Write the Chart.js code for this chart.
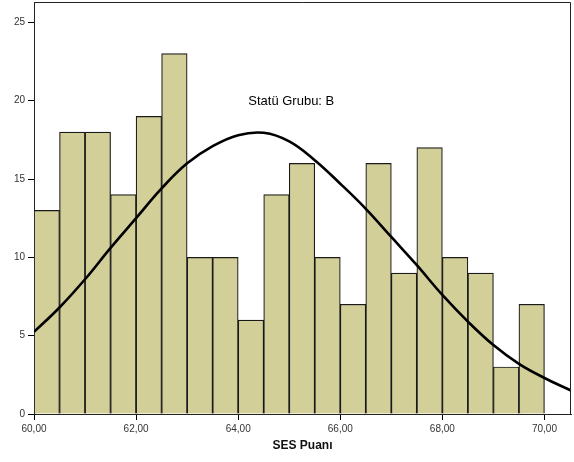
<!DOCTYPE html>
<html>
<head>
<meta charset="utf-8">
<script src="https://cdn.jsdelivr.net/npm/chart.js@4"></script>
<style>
  html, body { margin: 0; padding: 0; background: #fff; }
  #wrap { width: 574px; height: 462px; }
</style>
</head>
<body>
<div id="wrap"><canvas id="chart"></canvas></div>
<script>
// histogram bins (lower edge), width 0.5
const binStarts = [60, 60.5, 61, 61.5, 62, 62.5, 63, 63.5, 64, 64.5, 65, 65.5, 66, 66.5, 67, 67.5, 68, 68.5, 69, 69.5];
const counts = [13, 18, 18, 14, 19, 23, 10, 10, 6, 14, 16, 10, 7, 16, 9, 17, 10, 9, 3, 7];
// normal curve
const curveX = [60, 60.5, 61, 61.5, 62, 62.5, 63, 63.5, 64, 64.5, 65, 65.5, 66, 66.5, 67, 67.5, 68, 68.5, 69, 69.5, 70, 70.52];
const curveY = [5.24, 6.8, 8.6, 10.6, 12.5, 14.4, 16.0, 17.1, 17.8, 17.95, 17.4, 16.2, 14.7, 13.1, 11.3, 9.5, 7.6, 5.9, 4.4, 3.2, 2.3, 1.5];
const xTicks = [60, 62, 64, 66, 68, 70];
const yTicks = [0, 5, 10, 15, 20, 25];
const label = 'Statü Grubu: B';

const font = 'Arial, "Liberation Sans", sans-serif';

const framePlugin = {
	id: 'frame',
	afterDatasetsDraw(chart) {
		const a = chart.chartArea;
		const ctx = chart.ctx;
		ctx.save();
		ctx.strokeStyle = '#222';
		ctx.lineWidth = 1;
		ctx.beginPath();
		ctx.moveTo(a.left, a.top + 0.5);
		ctx.lineTo(a.right - 0.5, a.top + 0.5);
		ctx.lineTo(a.right - 0.5, a.bottom);
		ctx.stroke();
		// group label
		ctx.fillStyle = '#000';
		ctx.font = '13px ' + font;
		ctx.textAlign = 'center';
		ctx.textBaseline = 'middle';
		ctx.fillText(label, chart.scales.x.getPixelForValue(65.04), chart.scales.y.getPixelForValue(19.95));
		ctx.restore();
	}
};

const ctx = document.getElementById('chart').getContext('2d');
const myChart = new Chart(ctx, {
	type: 'bar',
	data: {
		datasets: [
			{
				type: 'line',
				data: curveX.map((x, i) => ({ x: x, y: curveY[i] })),
				borderColor: '#000',
				borderWidth: 2.6,
				pointRadius: 0,
				tension: 0.4,
				fill: false,
				order: 0
			},
			{
				type: 'bar',
				data: binStarts.map((x, i) => ({ x: x + 0.25, y: counts[i] })),
				backgroundColor: '#d3cf99',
				borderColor: '#1a1a1a',
				borderWidth: 1.2,
				barPercentage: 1,
				categoryPercentage: 1,
				order: 1
			}
		]
	},
	options: {
		responsive: true,
		maintainAspectRatio: false,
		animation: false,
		layout: { padding: { top: 2, right: 3, left: 0, bottom: 0 } },
		plugins: {
			legend: { display: false },
			tooltip: { enabled: false }
		},
		scales: {
			x: {
				type: 'linear',
				min: 60,
				max: 70.52,
				offset: false,
				afterBuildTicks: (s) => { s.ticks = xTicks.map(v => ({ value: v })); },
				afterFit: (s) => { s.height = 48; s.paddingLeft = 0; s.paddingRight = 0; },
				grid: { offset: false, drawOnChartArea: false, drawTicks: true, tickLength: 6, color: '#000' },
				border: { color: '#222', width: 1 },
				ticks: {
					color: '#333',
					font: { family: font, size: 10 },
					padding: 3,
					maxRotation: 0,
					autoSkip: false,
					callback: (v) => v.toFixed(2).replace('.', ',')
				},
				title: {
					display: true,
					text: 'SES Puanı',
					color: '#111',
					font: { family: font, size: 12, weight: 'bold' },
					padding: { top: 0, bottom: 9 }
				}
			},
			y: {
				min: 0,
				max: 26.3,
				afterBuildTicks: (s) => { s.ticks = yTicks.map(v => ({ value: v })); },
				afterFit: (s) => { s.width = 34; s.paddingTop = 0; s.paddingBottom = 0; },
				grid: { drawOnChartArea: false, drawTicks: true, tickLength: 6, color: '#000' },
				border: { color: '#222', width: 1 },
				ticks: {
					color: '#333',
					font: { family: font, size: 10 },
					padding: 3
				}
			}
		}
	},
	plugins: [framePlugin]
});
</script>
</body>
</html>
